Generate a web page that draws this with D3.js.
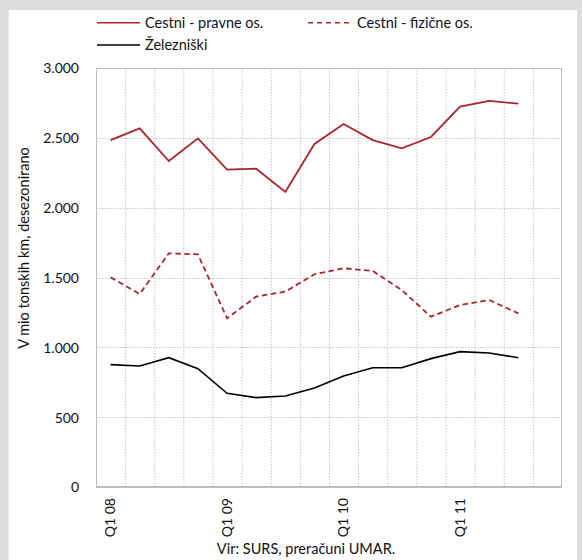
<!DOCTYPE html>
<html><head><meta charset="utf-8">
<script src="https://cdn.jsdelivr.net/npm/d3@7"></script>
<style>html,body{margin:0;padding:0;background:#dcdddf;}svg{display:block;}</style>
</head><body>
<svg id="c" width="582" height="560"></svg>
<script>
const categories = ["Q1 08","Q2 08","Q3 08","Q4 08","Q1 09","Q2 09","Q3 09","Q4 09","Q1 10","Q2 10","Q3 10","Q4 10","Q1 11","Q2 11","Q3 11","Q4 11"];
const tickLabels = ["Q1 08","Q1 09","Q1 10","Q1 11"];
const pravne = [2484,2568,2334,2496,2272,2279,2112,2456,2599,2484,2425,2506,2723,2764,2745];
const fizicne = [1501,1382,1673,1666,1208,1363,1399,1523,1566,1547,1410,1219,1303,1339,1243];
const zelezniski = [876,866,926,847,671,640,652,709,795,854,854,919,969,959,926];
const yTicks = [0,500,1000,1500,2000,2500,3000];
const seriesNames = ["Cestni - pravne os.","Cestni - fizične os.","Železniški"];

const svg = d3.select("#c");
const font = "Lato, 'Open Sans', sans-serif";
const red = "#a8262c";

svg.append("rect").attr("x",8.7).attr("y",10).attr("width",568.3).attr("height",560).attr("fill","#fff");

const L=96, R=562, T=68, B=487;
const x = d3.scaleBand().domain(categories).range([L,R]).padding(0);
const y = d3.scaleLinear().domain([0,3000]).range([B,T]);

const g = svg.append("g");
// vertical grid
g.selectAll(".vg").data(categories.slice(1)).join("line")
  .attr("x1",d=>x(d)+0.5).attr("x2",d=>x(d)+0.5).attr("y1",T).attr("y2",B)
  .attr("stroke","#c4c4c4").attr("stroke-dasharray","1.5,1.5");
// horizontal grid
g.selectAll(".hg").data(yTicks.slice(1,-1)).join("line")
  .attr("x1",L).attr("x2",R).attr("y1",d=>Math.round(y(d))+0.5).attr("y2",d=>Math.round(y(d))+0.5)
  .attr("stroke","#c4c4c4").attr("stroke-dasharray","1.5,1.5");
// border
g.append("rect").attr("x",L+0.5).attr("y",T+0.5).attr("width",R-L-1).attr("height",B-T-1)
  .attr("fill","none").attr("stroke","#bdbdbd").attr("stroke-width",1);
g.append("line").attr("x1",L).attr("x2",R).attr("y1",B).attr("y2",B).attr("stroke","#bdbdbd").attr("stroke-width",2);

// y axis
const ya = d3.axisLeft(y).tickValues(yTicks).tickSize(0).tickPadding(0)
  .tickFormat(d=>d3.format(",")(d).replace(/,/g,"."));
const yg = svg.append("g").attr("transform",`translate(${79},0)`).call(ya);
yg.select(".domain").remove();
yg.selectAll("text").attr("font-family",font).attr("font-size",14).attr("fill","#111").attr("dy","0.35em");

// x axis
const xa = d3.axisBottom(x).tickValues(tickLabels).tickSize(0).tickFormat(d=>d);
const xg = svg.append("g").attr("transform",`translate(0,${B})`).call(xa);
xg.select(".domain").remove();
xg.selectAll("text").attr("font-family",font).attr("font-size",14).attr("fill","#111")
  .attr("text-anchor","end").attr("transform","rotate(-90)").attr("x",-11).attr("y",0).attr("dy","0.35em");

// lines
const line = d3.line().x((d,i)=>x(categories[i])+x.bandwidth()/2).y(d=>y(d));
svg.append("path").datum(pravne).attr("d",line).attr("fill","none").attr("stroke",red).attr("stroke-width",1.8);
svg.append("path").datum(fizicne).attr("d",line).attr("fill","none").attr("stroke",red).attr("stroke-width",1.8).attr("stroke-dasharray","5.5,3.5");
svg.append("path").datum(zelezniski).attr("d",line).attr("fill","none").attr("stroke","#000").attr("stroke-width",1.6);

// legend
const leg = [
  {n:seriesNames[0], c:red, dash:null, x1:97, x2:140, tx:145, y:22.7},
  {n:seriesNames[1], c:red, dash:"5,4", x1:308, x2:350, tx:357, y:22.7},
  {n:seriesNames[2], c:"#000", dash:null, x1:97, x2:140, tx:145, y:45}
];
const lg = svg.append("g");
leg.forEach(l=>{
  lg.append("line").attr("x1",l.x1).attr("x2",l.x2).attr("y1",l.y).attr("y2",l.y)
    .attr("stroke",l.c).attr("stroke-width",1.6).attr("stroke-dasharray",l.dash);
  lg.append("text").attr("x",l.tx).attr("y",l.y).attr("dy","0.35em").attr("font-family",font)
    .attr("font-size",14.5).attr("fill","#111").text(l.n);
});

// y title
svg.append("text").attr("transform","translate(29,248) rotate(-90)").attr("text-anchor","middle")
  .attr("font-family",font).attr("font-size",14.5).attr("fill","#111").text("V mio tonskih km, desezonirano");

// source
svg.append("text").attr("x",306).attr("y",554).attr("text-anchor","middle")
  .attr("font-family",font).attr("font-size",14.5).attr("fill","#111").text("Vir: SURS, preračuni UMAR.");
</script>
</body></html>
